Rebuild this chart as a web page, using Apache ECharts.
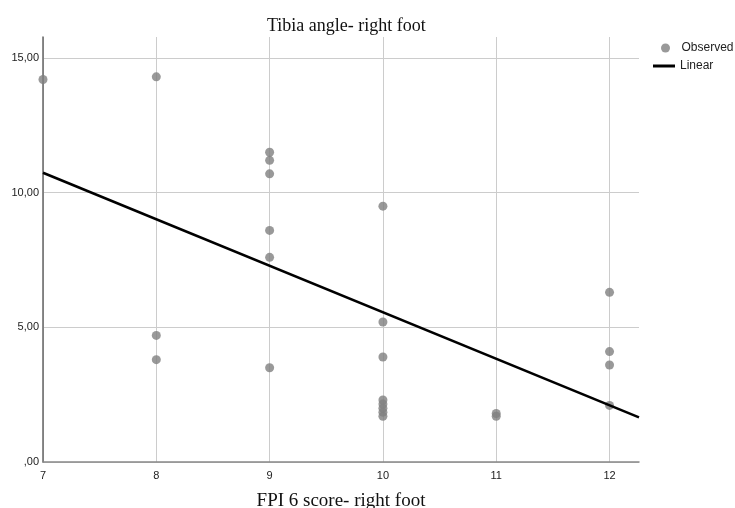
<!DOCTYPE html>
<html>
<head>
<meta charset="utf-8">
<script src="https://cdn.jsdelivr.net/npm/echarts@6/dist/echarts.min.js"></script>
<style>html,body{margin:0;padding:0;background:#fff}#c{width:735px;height:508px}</style>
</head>
<body>
<div id="c"></div>
<script>
// Observed points: FPI 6 score (x) and tibia angle (y)
const fpiScore = [7, 8, 8, 8, 9, 9, 9, 9, 9, 9, 10, 10, 10, 10, 10, 10, 10, 10, 11, 11, 12, 12, 12, 12];
const tibiaAngle = [14.2, 14.3, 4.7, 3.8, 11.5, 11.2, 10.7, 8.6, 7.6, 3.5, 9.5, 5.2, 3.9, 2.3, 2.15, 2.0, 1.85, 1.7, 1.8, 1.7, 6.3, 4.1, 3.6, 2.1];
// Linear fit line end points
const fitX = [7, 12.26];
const fitY = [10.74, 1.66];
const xTicks = [7, 8, 9, 10, 11, 12];
const yTicks = ['15,00', '10,00', '5,00', ',00'];

const observed = fpiScore.map((x, i) => [x, tibiaAngle[i]]);
const linear = fitX.map((x, i) => [x, fitY[i]]);

const legendText = {fontFamily: 'Liberation Sans', fontSize: 12, color: '#222'};

const chart = echarts.init(document.getElementById('c'), null, {renderer: 'canvas'});
chart.setOption({
  animation: false,
  backgroundColor: '#fff',
  title: {
    text: 'Tibia angle- right foot',
    left: 262, top: 12,
    textStyle: {fontFamily: 'Liberation Serif', fontSize: 18, fontWeight: 'normal', color: '#111'}
  },
  legend: [
    {
      orient: 'vertical', left: 656, top: 37, padding: 5,
      itemWidth: 22, itemHeight: 9, itemGap: 4,
      textStyle: legendText,
      data: [{name: 'Observed', icon: 'circle'}]
    },
    {
      orient: 'vertical', left: 648, top: 55, padding: 5,
      itemWidth: 22, itemHeight: 3, itemGap: 4,
      textStyle: legendText,
      data: [{name: 'Linear', icon: 'rect'}]
    }
  ],
  grid: {left: 43, right: 96, top: 37, bottom: 46, containLabel: false, outerBoundsMode: 'none'},
  xAxis: {
    type: 'value', min: 7, max: 12.26, interval: 1,
    name: 'FPI 6 score- right foot', nameLocation: 'middle', nameGap: 30,
    nameTextStyle: {fontFamily: 'Liberation Serif', fontSize: 19, color: '#111'},
    axisLine: {show: true, lineStyle: {color: '#888', width: 1.5}},
    axisTick: {show: false},
    axisLabel: {
      fontFamily: 'Liberation Sans', fontSize: 11, color: '#222', margin: 8,
      showMaxLabel: false,
      formatter: v => (xTicks.indexOf(v) >= 0 ? String(v) : '')
    },
    splitLine: {show: true, lineStyle: {color: ['#ccc','#ccc','#ccc','#ccc','#ccc','#ccc','rgba(0,0,0,0)'], width: 1}}
  },
  yAxis: {
    type: 'value', min: 0, max: 15.78, interval: 5,
    axisLine: {show: true, lineStyle: {color: '#666', width: 1.5}},
    axisTick: {show: false},
    axisLabel: {
      fontFamily: 'Liberation Sans', fontSize: 11, color: '#222', margin: 4,
      padding: [7, 0, 0, 0],
      showMaxLabel: false,
      formatter: v => { const i = [15, 10, 5, 0].indexOf(v); return i >= 0 ? yTicks[i] : ''; }
    },
    splitLine: {show: true, lineStyle: {color: ['#ccc','#ccc','#ccc','#ccc','rgba(0,0,0,0)'], width: 1}}
  },
  series: [
    {
      name: 'Observed', type: 'scatter', data: observed,
      symbol: 'circle', symbolSize: 9,
      itemStyle: {color: '#7f7f7f'}
    },
    {
      name: 'Linear', type: 'line', data: linear,
      showSymbol: false, symbol: 'none',
      lineStyle: {color: '#000', width: 2.5},
      itemStyle: {color: '#000'}
    }
  ]
});
</script>
</body>
</html>
